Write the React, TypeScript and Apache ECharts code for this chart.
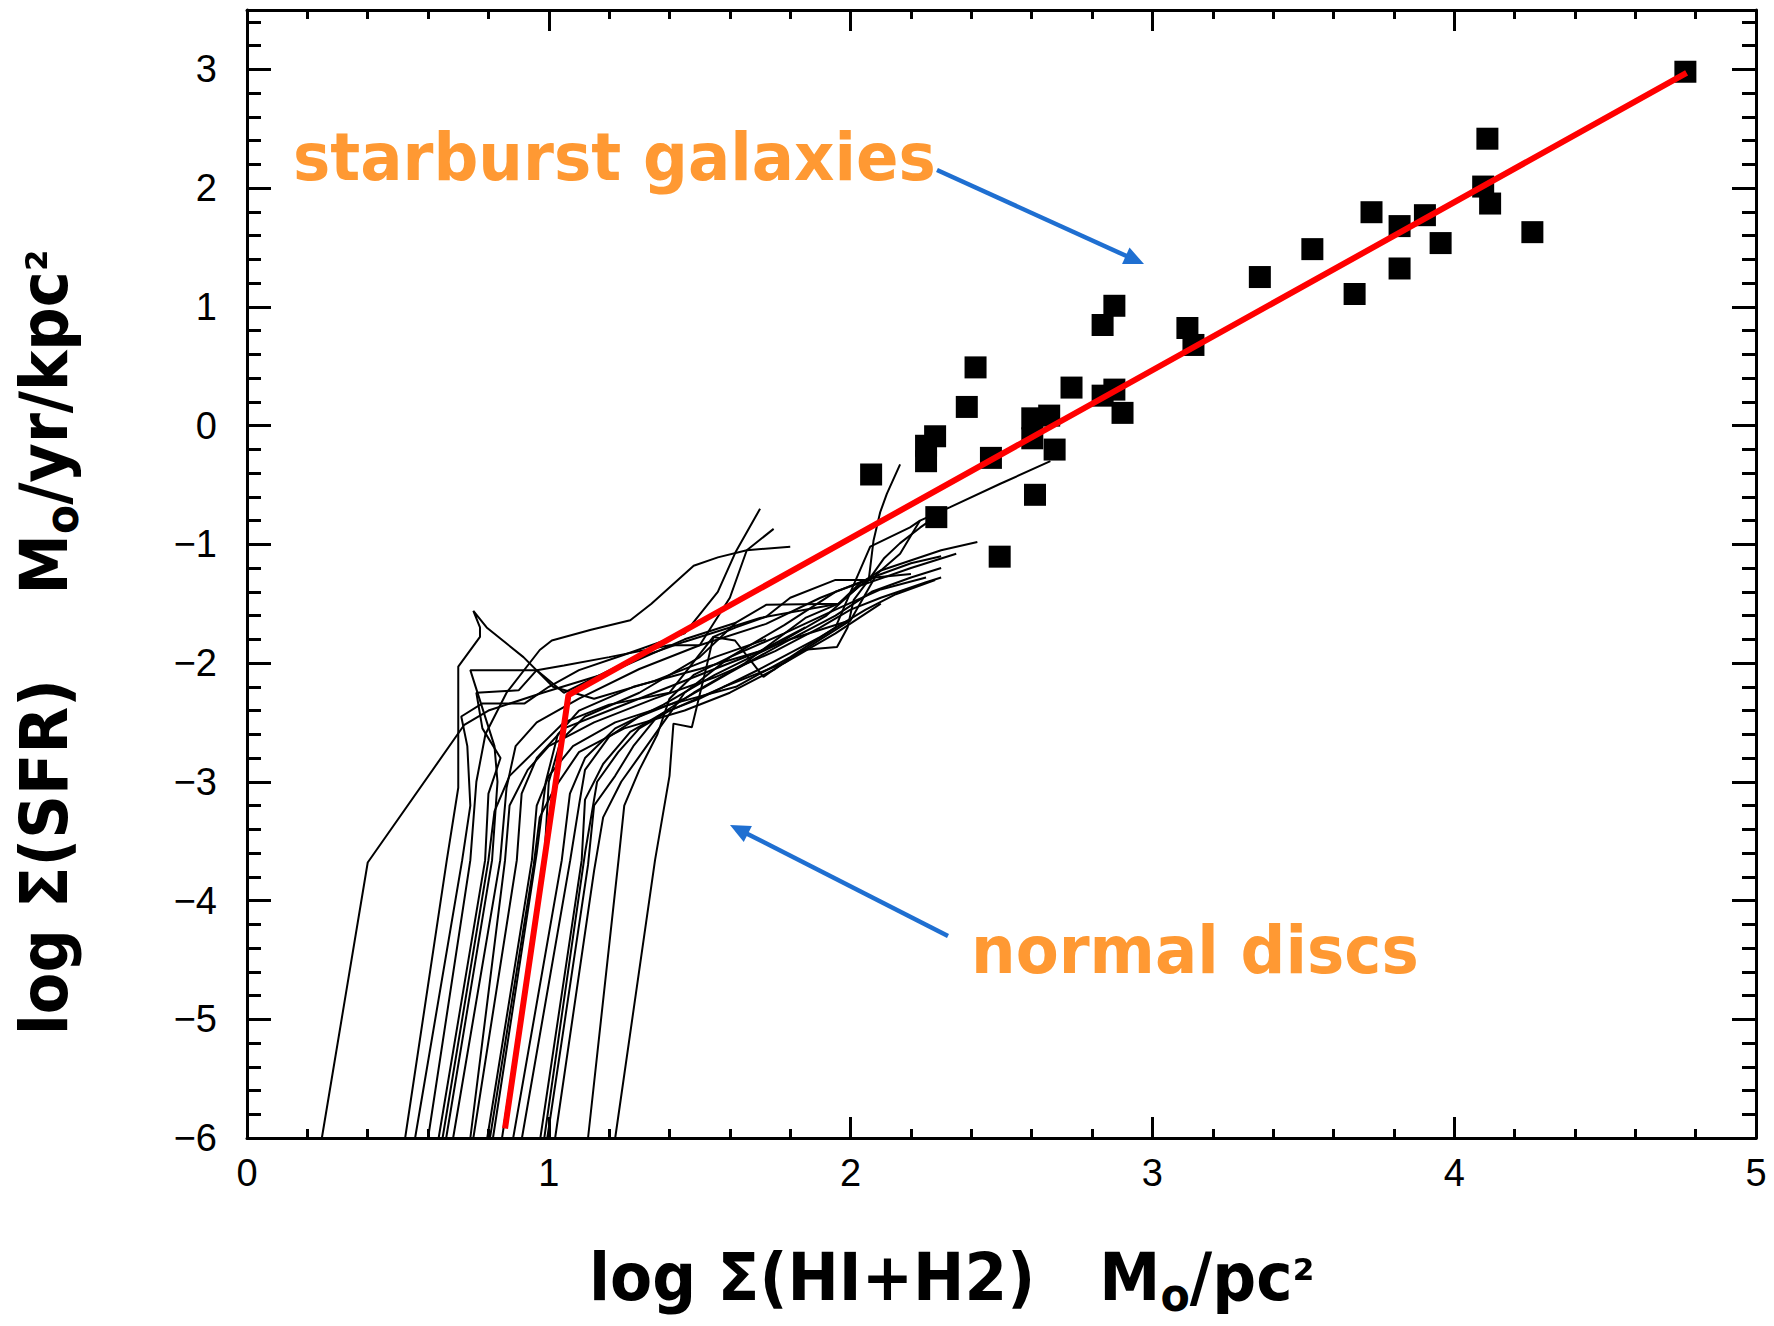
import React, { useEffect, useRef } from 'react';
import * as echarts from 'echarts';

// ---------- data ----------
const xTicks = [0, 1, 2, 3, 4, 5];
const yTicks = [-6, -5, -4, -3, -2, -1, 0, 1, 2, 3];

const starburstX = [4.766, 4.110, 4.096, 4.119, 4.259, 3.903, 3.819, 3.726, 3.955, 3.819, 3.530, 3.670, 3.356, 3.116, 3.136,
  2.874, 2.835, 2.414, 2.385, 2.732, 2.874, 2.835, 2.901, 2.28, 2.25, 2.25, 2.068, 2.465, 2.602, 2.658, 2.602, 2.676, 2.611, 2.494, 2.284];
const starburstY = [2.98, 2.416, 2.013, 1.870, 1.629, 1.772, 1.680, 1.797, 1.537, 1.323, 1.486, 1.108, 1.251, 0.822, 0.679,
  1.009, 0.847, 0.490, 0.157, 0.320, 0.303, 0.252, 0.107, -0.09, -0.17, -0.30, -0.412, -0.272, 0.061, 0.084, -0.107, -0.202, -0.583, -1.104, -0.771];

const fitLineX = [0.855, 1.065, 4.77];
const fitLineY = [-5.92, -2.271, 2.97];

const discProfiles: number[][][] = [
  [[0.248, -6], [0.40, -3.68], [0.72, -2.52], [0.80, -2.40], [0.98, -2.25], [1.20, -2.08], [1.45, -1.80], [1.62, -1.66]],
  [[0.524, -6], [0.662, -3.66], [0.70, -3.05], [0.70, -2.48], [0.70, -2.03], [0.772, -1.78], [0.772, -1.70], [0.75, -1.56], [0.794, -1.70], [0.916, -1.95], [1.014, -2.20], [1.15, -2.30], [1.35, -2.15], [1.55, -1.95], [1.72, -1.80]],
  [[0.557, -6], [0.713, -3.66], [0.74, -3.20], [0.73, -2.70], [0.71, -2.45], [0.78, -2.34], [0.92, -2.34], [1.00, -2.20], [1.10, -2.06], [1.25, -1.93], [1.45, -1.75], [1.56, -1.40], [1.62, -1.06], [1.70, -0.70]],
  [[0.600, -6], [0.740, -3.66], [0.76, -3.00], [0.79, -2.60], [0.86, -2.25], [0.97, -1.89], [1.01, -1.81], [1.14, -1.72], [1.27, -1.64], [1.34, -1.50], [1.48, -1.18], [1.56, -1.11], [1.656, -1.05], [1.745, -0.87]],
  [[0.635, -6], [0.789, -3.66], [0.80, -3.10], [0.84, -2.80], [0.78, -2.55], [0.76, -2.25], [0.90, -2.23], [0.96, -2.06], [1.05, -2.02], [1.20, -1.95], [1.40, -1.85], [1.50, -1.85], [1.60, -1.45], [1.656, -1.05], [1.80, -1.02]],
  [[0.648, -6], [0.80, -3.66], [0.82, -3.25], [0.87, -2.95], [0.95, -2.75], [1.05, -2.50], [1.20, -2.35], [1.40, -2.25], [1.545, -1.78], [1.617, -1.81], [1.711, -2.117], [1.838, -1.89], [1.955, -1.864], [1.99, -1.70], [2.01, -1.47], [2.06, -1.30], [2.11, -1.12], [2.164, -0.99], [2.23, -0.86], [2.275, -0.78]],
  [[0.66, -6], [0.812, -3.66], [0.83, -3.0], [0.82, -2.70], [0.74, -2.06], [0.96, -2.06], [1.05, -2.25], [1.25, -2.00], [1.45, -1.82], [1.70, -1.62], [1.96, -1.50], [2.03, -1.35], [2.20, -1.20], [2.35, -1.08]],
  [[0.683, -6], [0.839, -3.66], [0.86, -3.05], [0.89, -2.70], [0.96, -2.50], [1.10, -2.30], [1.30, -2.05], [1.50, -1.85], [1.72, -1.67], [1.90, -1.45], [2.07, -1.28], [2.20, -1.16], [2.30, -1.10]],
  [[0.740, -6], [0.855, -3.66], [0.87, -3.20], [0.93, -2.90], [1.00, -2.70], [1.15, -2.50], [1.35, -2.30], [1.55, -2.12], [1.75, -1.90], [1.90, -1.70], [2.00, -1.55], [2.10, -1.45], [2.25, -1.32], [2.30, -1.28]],
  [[0.750, -6], [0.894, -3.66], [0.91, -3.10], [0.96, -2.80], [1.05, -2.55], [1.20, -2.40], [1.40, -2.20], [1.60, -2.00], [1.80, -1.80], [2.00, -1.64], [2.087, -1.25], [2.164, -1.08], [2.23, -0.80], [2.33, -0.687], [2.496, -0.49], [2.662, -0.30]],
  [[0.796, -6], [0.944, -3.66], [0.96, -3.20], [1.00, -2.95], [1.08, -2.70], [1.22, -2.50], [1.40, -2.35], [1.62, -2.20], [1.80, -1.95], [1.95, -1.70], [2.0, -1.40], [2.065, -1.02], [2.13, -0.94], [2.197, -0.857], [2.23, -0.80]],
  [[0.805, -6], [0.95, -3.7], [0.97, -3.3], [1.02, -3.05], [1.10, -2.75], [1.25, -2.55], [1.45, -2.40], [1.60, -2.25], [1.75, -2.05], [1.90, -1.80], [2.0, -1.64]],
  [[0.815, -6], [0.96, -3.6], [0.99, -3.0], [1.03, -2.60], [1.10, -2.40], [1.28, -2.20], [1.50, -2.05], [1.70, -1.90], [1.85, -1.70]],
  [[0.845, -6], [0.985, -3.66], [1.00, -3.0], [1.04, -2.65], [1.12, -2.45], [1.30, -2.25], [1.50, -1.95], [1.62, -1.66], [1.72, -1.51], [1.96, -1.50], [2.03, -1.33], [2.10, -1.22], [2.30, -1.05], [2.42, -0.98]],
  [[0.882, -6], [1.043, -3.66], [1.07, -3.1], [1.12, -2.80], [1.22, -2.55], [1.38, -2.35], [1.55, -2.10], [1.75, -1.85], [1.92, -1.60], [2.03, -1.35], [2.06, -1.30], [2.076, -0.967], [2.098, -0.73], [2.12, -0.575], [2.164, -0.327]],
  [[0.911, -6], [1.071, -3.66], [1.10, -3.20], [1.12, -2.90], [1.20, -2.62], [1.30, -2.45], [1.45, -2.30], [1.60, -2.08], [1.80, -1.80], [1.95, -1.60], [2.07, -1.40], [2.20, -1.28], [2.30, -1.20]],
  [[0.972, -6], [1.109, -3.66], [1.12, -3.15], [1.18, -2.85], [1.27, -2.58], [1.38, -2.42], [1.50, -2.30], [1.70, -2.05], [1.90, -1.78], [2.05, -1.55], [2.15, -1.42], [2.28, -1.30]],
  [[0.985, -6], [1.12, -3.6], [1.14, -3.30], [1.16, -3.00], [1.23, -2.75], [1.30, -2.55], [1.40, -2.40], [1.58, -2.20], [1.78, -2.0], [1.95, -1.75], [2.10, -1.50]],
  [[0.995, -6], [1.13, -3.7], [1.15, -3.2], [1.22, -2.95], [1.28, -2.70], [1.36, -2.45], [1.48, -2.25], [1.65, -2.00], [1.85, -1.62], [1.96, -1.50]],
  [[1.021, -6], [1.15, -3.75], [1.18, -3.30], [1.24, -3.00], [1.31, -2.75], [1.38, -2.50], [1.45, -2.25], [1.60, -1.95], [1.78, -1.68], [1.95, -1.40], [2.08, -1.28], [2.20, -1.25]],
  [[1.130, -6], [1.231, -3.66], [1.25, -3.2], [1.30, -2.9], [1.36, -2.60], [1.40, -2.30], [1.48, -2.10], [1.60, -1.95], [1.78, -1.75], [1.95, -1.55], [2.10, -1.38], [2.25, -1.28]],
  [[1.220, -6], [1.352, -3.66], [1.40, -2.95], [1.413, -2.51], [1.474, -2.54], [1.53, -1.95], [1.545, -1.78], [1.62, -1.70], [1.72, -1.61], [1.80, -1.45], [1.95, -1.30], [2.07, -1.30]],
];

const xTitleParts = [
  { t: 'log Σ(HI+H2)   M', s: 66, dy: 0 },
  { t: 'o', s: 46, dy: 11 },
  { t: '/pc', s: 66, dy: 0 },
  { t: '²', s: 54, dy: -2 },
];
const yTitleParts = [
  { t: 'log Σ(SFR)    M', s: 66, dy: 0 },
  { t: 'o', s: 46, dy: 11 },
  { t: '/yr/kpc', s: 66, dy: 0 },
  { t: '²', s: 54, dy: -2 },
];
const starburstLabel = 'starburst galaxies';
const discLabel = 'normal discs';

// ---------- helpers ----------
const FONT = '"DejaVu Sans", Verdana, sans-serif';
let ctx: CanvasRenderingContext2D | null = null;
function measure(text: string, size: number) {
  if (!ctx) ctx = document.createElement('canvas').getContext('2d');
  if (!ctx) return text.length * size * 0.6;
  ctx.font = `bold ${size}px "DejaVu Sans"`;
  return ctx.measureText(text).width;
}

function titleChildren(parts: { t: string; s: number; dy: number }[]) {
  let x = 0;
  const out: any[] = [];
  for (const p of parts) {
    out.push({
      type: 'text',
      x,
      y: p.dy - 0.346 * p.s,
      style: {
        text: p.t,
        font: `bold ${p.s}px ${FONT}`,
        fill: '#000',
        textAlign: 'left',
        verticalAlign: 'middle',
        textVerticalAlign: 'middle',
      },
    });
    x += measure(p.t, p.s);
  }
  return out;
}

function arrow(x1: number, y1: number, x2: number, y2: number, color: string) {
  const dx = x2 - x1, dy = y2 - y1;
  const len = Math.hypot(dx, dy);
  const ux = dx / len, uy = dy / len;
  const hl = 20, hw = 9;
  const bx = x2 - ux * hl, by = y2 - uy * hl;
  const nx = -uy, ny = ux;
  return [
    { type: 'line', shape: { x1, y1, x2: bx + ux * 2, y2: by + uy * 2 }, style: { stroke: color, lineWidth: 4.5 } },
    { type: 'polygon', shape: { points: [[x2, y2], [bx + nx * hw, by + ny * hw], [bx - nx * hw, by - ny * hw]] }, style: { fill: color } },
  ];
}

const fmt = (v: number) => (Number.isInteger(v) && yTicks.concat(xTicks).includes(v) ? String(v).replace('-', '\u2212') : '');

export default function App() {
  const ref = useRef<HTMLDivElement>(null);
  useEffect(() => {
    if (!ref.current) return;
    const chart = echarts.init(ref.current, undefined, { renderer: 'svg' });
    const axisLine = { show: true, onZero: false, lineStyle: { color: '#000', width: 3 } };
    const labelStyle = { color: '#000', fontFamily: '"Liberation Sans", Arial, sans-serif', fontSize: 38 };
    const xBase = (pos: string, showLabel: boolean) => ({
      type: 'value', min: 0, max: 5, interval: 1, position: pos,
      axisLine,
      axisTick: { show: true, inside: true, length: 21, lineStyle: { color: '#000', width: 3 } },
      minorTick: { show: true, splitNumber: 5, length: 9, lineStyle: { color: '#000', width: 3 } },
      splitLine: { show: false },
      axisLabel: { show: showLabel, ...labelStyle, margin: 16, formatter: fmt },
    });
    const yMajor = (pos: string, showLabel: boolean) => ({
      type: 'value', min: -6, max: 3.5, interval: 1, position: pos,
      axisLine,
      axisTick: { show: true, inside: true, length: 24, lineStyle: { color: '#000', width: 3 } },
      splitLine: { show: false },
      axisLabel: { show: showLabel, ...labelStyle, margin: 30, formatter: fmt },
    });
    const yMinor = (pos: string) => ({
      type: 'value', min: -6, max: 3.5, interval: 0.2, position: pos,
      axisLine: { show: false, onZero: false },
      axisTick: { show: true, inside: true, length: 14, lineStyle: { color: '#000', width: 3 } },
      splitLine: { show: false },
      axisLabel: { show: false },
    });

    const discSeries = discProfiles.map((d, i) => ({
      name: `disc-${i}`,
      type: 'line',
      data: d,
      symbol: 'none',
      silent: true,
      z: 2,
      lineStyle: { color: '#000', width: 2 },
    }));

    const titleX = { type: 'group', x: 589, y: 1300, scaleX: 0.93, scaleY: 1, children: titleChildren(xTitleParts), silent: true };
    const titleY = { type: 'group', x: 67, y: 1035, rotation: Math.PI / 2, scaleX: 0.92, scaleY: 1, children: titleChildren(yTitleParts), silent: true };

    chart.setOption({
      animation: false,
      backgroundColor: '#fff',
      grid: { left: 247, top: 10, right: 18, bottom: 188, containLabel: false },
      xAxis: [xBase('bottom', true), xBase('top', false)],
      yAxis: [yMajor('left', true), yMajor('right', false), yMinor('left'), yMinor('right')],
      series: [
        ...discSeries,
        {
          name: 'starburst', type: 'scatter', symbol: 'rect', symbolSize: 22, z: 3,
          itemStyle: { color: '#000', opacity: 1 },
          data: starburstX.map((x, i) => [x, starburstY[i]]),
        },
        {
          name: 'fit', type: 'line', symbol: 'none', z: 4,
          lineStyle: { color: '#ff0000', width: 6, opacity: 1 },
          data: fitLineX.map((x, i) => [x, fitLineY[i]]),
        },
      ],
      graphic: [
        titleX,
        titleY,
        {
          type: 'text', x: 293, y: 157, scaleX: 0.95, silent: true,
          style: { text: starburstLabel, font: `bold 66px ${FONT}`, fill: '#ff9933', textAlign: 'left', verticalAlign: 'middle', textVerticalAlign: 'middle' },
        },
        {
          type: 'text', x: 971, y: 950, scaleX: 0.95, silent: true,
          style: { text: discLabel, font: `bold 66px ${FONT}`, fill: '#ff9933', textAlign: 'left', verticalAlign: 'middle', textVerticalAlign: 'middle' },
        },
        ...arrow(937, 170, 1144, 264, '#1f6fd1'),
        ...arrow(948, 936, 730, 825, '#1f6fd1'),
      ],
    });
    return () => chart.dispose();
  }, []);
  return <div ref={ref} style={{ position: 'absolute', left: 0, top: 0, width: 1774, height: 1326, background: '#fff' }} />;
}
